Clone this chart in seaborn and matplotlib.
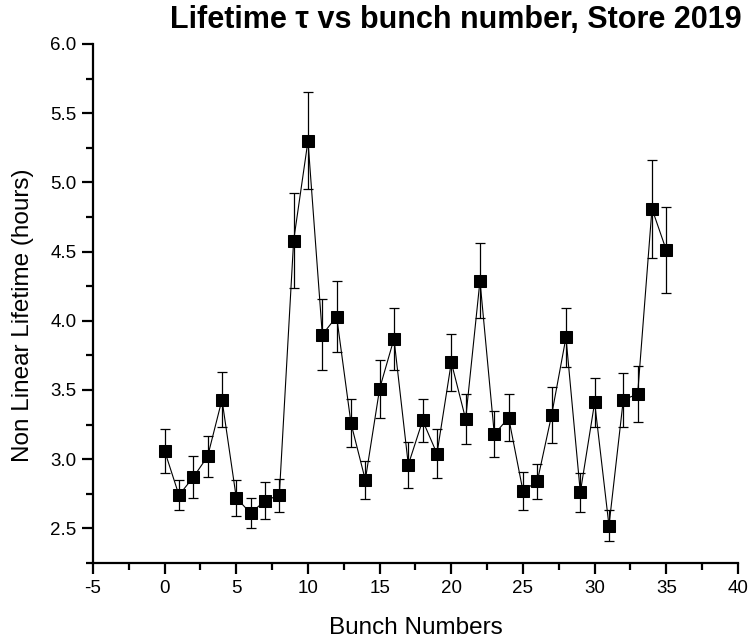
import matplotlib
matplotlib.use("Agg")
import matplotlib.pyplot as plt
import seaborn as sns
import pandas as pd
from matplotlib.ticker import MultipleLocator

bunch = list(range(36))
lifetime = [3.06, 2.74, 2.87, 3.02, 3.43, 2.72, 2.61, 2.70, 2.74, 4.58,
            5.30, 3.90, 4.03, 3.26, 2.85, 3.51, 3.87, 2.96, 3.28, 3.04,
            3.70, 3.29, 4.29, 3.18, 3.30, 2.77, 2.84, 3.32, 3.88, 2.76,
            3.41, 2.52, 3.43, 3.47, 4.81, 4.51]
error = [0.16, 0.11, 0.15, 0.15, 0.20, 0.13, 0.11, 0.135, 0.12, 0.345,
         0.35, 0.255, 0.255, 0.175, 0.135, 0.21, 0.225, 0.165, 0.155, 0.175,
         0.205, 0.18, 0.27, 0.165, 0.17, 0.14, 0.125, 0.205, 0.215, 0.14,
         0.18, 0.112, 0.195, 0.20, 0.355, 0.31]

df = pd.DataFrame({"bunch": bunch, "lifetime": lifetime, "err": error})

sns.set_theme(style="ticks")
plt.rcParams['font.family'] = ['Liberation Sans', 'DejaVu Sans']
plt.rcParams['axes.unicode_minus'] = False
plt.rcParams['text.color'] = 'black'
plt.rcParams['axes.labelcolor'] = 'black'
plt.rcParams['xtick.color'] = 'black'
plt.rcParams['ytick.color'] = 'black'

fig = plt.figure(figsize=(7.48, 6.40), dpi=100)
ax = fig.add_axes([0.1243, 0.1203, 0.8623, 0.811])

ax.errorbar(df["bunch"], df["lifetime"], yerr=df["err"], fmt="none",
            ecolor="black", elinewidth=0.9, capsize=3.6, capthick=0.9, zorder=2)
sns.lineplot(data=df, x="bunch", y="lifetime", ax=ax, color="black",
             linewidth=0.8, marker="s", markersize=8.5, markeredgecolor="black",
             markerfacecolor="black", zorder=3)

ax.set_xlim(-5, 40)
ax.set_ylim(2.25, 6.0)
ax.xaxis.set_major_locator(MultipleLocator(5))
ax.xaxis.set_minor_locator(MultipleLocator(2.5))
ax.yaxis.set_minor_locator(MultipleLocator(0.25))
ax.set_yticks([2.5, 3.0, 3.5, 4.0, 4.5, 5.0, 5.5, 6.0])
ax.set_yticklabels(["2.5", "3.0", "3.5", "4.0", "4.5", "5.0", "5.5", "6.0"])

for s in ["top", "right"]:
    ax.spines[s].set_visible(False)
for s in ["left", "bottom"]:
    ax.spines[s].set_linewidth(1.6)
    ax.spines[s].set_color("black")

ax.tick_params(axis="both", which="major", direction="out", length=8, width=1.6,
               labelsize=13.5, colors="black", pad=4)
ax.tick_params(axis="both", which="minor", direction="out", length=5, width=1.6)

ax.set_xlabel("Bunch Numbers", fontsize=17.5, color="black")
ax.xaxis.set_label_coords(0.5, -0.104)
ax.set_ylabel("Non Linear Lifetime (hours)", fontsize=17.5, color="black")
ax.yaxis.set_label_coords(-0.092, 0.478)

fig.text(0.61, 0.968, "Lifetime τ vs bunch number, Store 2019", ha="center",
         va="center", fontsize=22, fontweight="bold",
         family=['Liberation Sans', 'DejaVu Sans'])

fig.savefig("out.png", dpi=100)
